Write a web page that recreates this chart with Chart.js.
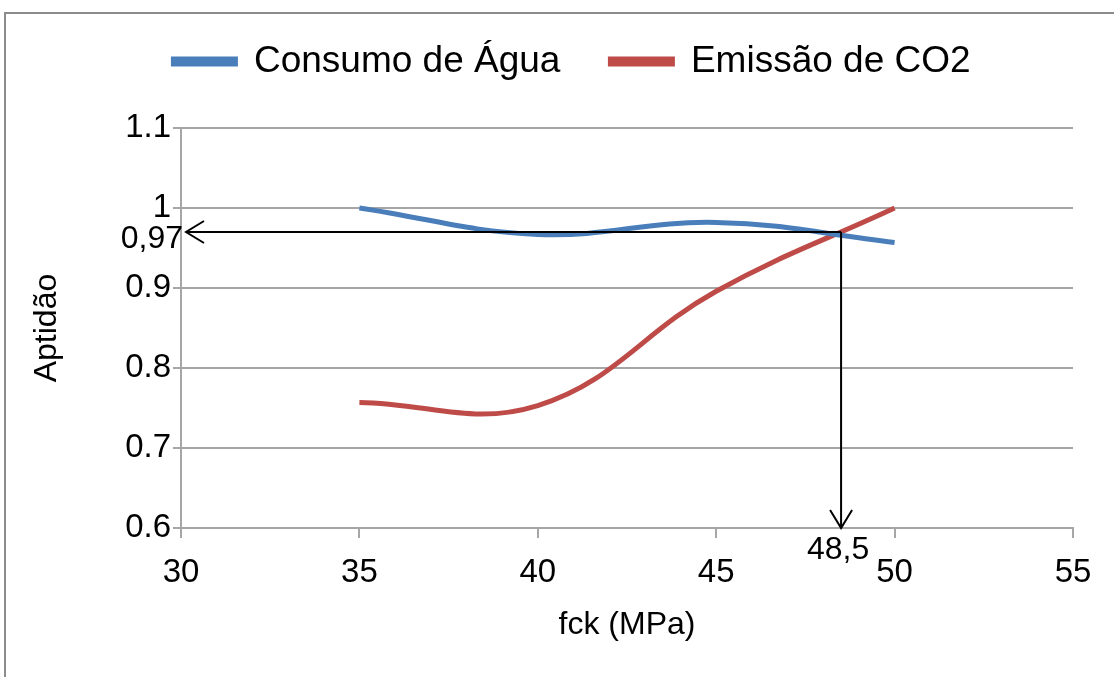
<!DOCTYPE html>
<html>
<head>
<meta charset="utf-8">
<script src="https://cdn.jsdelivr.net/npm/chart.js@4/dist/chart.umd.min.js"></script>
<style>
  html, body { margin: 0; padding: 0; background: #fff; }
  #wrap { width: 1114px; height: 677px; }
</style>
</head>
<body>
<div id="wrap"><canvas id="chart" width="1114" height="677"></canvas></div>
<script>
/* ===== data ===== */
const fckValues = [35, 40, 45, 50];
const consumoAgua = [1.0, 0.967, 0.982, 0.957];
const emissaoCO2 = [0.757, 0.753, 0.896, 1.0];

const seriesNames = ["Consumo de Água", "Emissão de CO2"];

// marked point (arrows + labels)
const markX = 48.5;
const markY = 0.97;
const markXLabel = "48,5";
const markYLabel = "0,97";

const FONT = "'Liberation Sans', Arial, sans-serif";

/* ===== frame + legend placement ===== */
const framePlugin = {
  id: "frame",
  afterInit(chart) {
    // keep a gap between legend and plot, like the original
    const legend = chart.legend;
    if (legend) {
      const fit = legend.fit;
      legend.fit = function () {
        fit.call(this);
        this.height = 128;
      };
    }
  },
  afterLayout(chart) {
    // original legend sits a bit right of centre and higher up
    const legend = chart.legend;
    if (legend) {
      legend.left += 71;
      legend.top -= 7;
    }
  },
  beforeDraw(chart) {
    const ctx = chart.ctx;
    ctx.save();
    ctx.fillStyle = "#fff";
    ctx.fillRect(0, 0, chart.width, chart.height);
    ctx.strokeStyle = "#8c8c8c";
    ctx.lineWidth = 2;
    ctx.strokeRect(5, 13, 1400, 900);
    ctx.restore();
  }
};

/* ===== arrows to the axes ===== */
function arrowHead(ctx, x, y, dir) {
  const len = 18, half = 11;
  ctx.beginPath();
  if (dir === "left") {
    ctx.moveTo(x + len, y - half);
    ctx.lineTo(x, y);
    ctx.lineTo(x + len, y + half);
  } else {
    ctx.moveTo(x - half, y - len);
    ctx.lineTo(x, y);
    ctx.lineTo(x + half, y - len);
  }
  ctx.stroke();
}

const markPlugin = {
  id: "mark",
  afterDatasetsDraw(chart) {
    const ctx = chart.ctx;
    const xs = chart.scales.x, ys = chart.scales.y;
    const px = xs.getPixelForValue(markX);
    const py = ys.getPixelForValue(markY);
    ctx.save();
    ctx.strokeStyle = "#000";
    ctx.lineWidth = 2;
    ctx.beginPath();
    ctx.moveTo(px, py);
    ctx.lineTo(xs.left + 5, py);
    ctx.moveTo(px, py);
    ctx.lineTo(px, ys.bottom);
    ctx.stroke();
    arrowHead(ctx, xs.left + 5, py, "left");
    arrowHead(ctx, px, ys.bottom, "down");

    ctx.fillStyle = "#000";
    ctx.font = "32px " + FONT;
    ctx.textAlign = "right";
    ctx.textBaseline = "middle";
    ctx.fillText(markYLabel, xs.left + 2, py + 7);
    ctx.textAlign = "center";
    ctx.fillText(markXLabel, px - 3, ys.bottom + 22);
    ctx.restore();
  }
};

const chart = new Chart(document.getElementById("chart"), {
  type: "line",
  data: {
    datasets: [
      {
        label: seriesNames[0],
        data: fckValues.map((x, i) => ({ x, y: consumoAgua[i] })),
        borderColor: "#4a7ebb",
        backgroundColor: "#4a7ebb",
        borderWidth: 5,
        pointRadius: 0,
        tension: 0.4
      },
      {
        label: seriesNames[1],
        data: fckValues.map((x, i) => ({ x, y: emissaoCO2[i] })),
        borderColor: "#be4b48",
        backgroundColor: "#be4b48",
        borderWidth: 5,
        pointRadius: 0,
        tension: 0.4
      }
    ]
  },
  options: {
    responsive: false,
    animation: false,
    layout: { padding: { left: 0, right: 41, top: 0, bottom: 0 } },
    plugins: {
      legend: {
        position: "top",
        labels: {
          boxWidth: 62,
          boxHeight: 5,
          padding: 50,
          color: "#000",
          font: { family: FONT, size: 37 }
        }
      },
      tooltip: { enabled: false }
    },
    scales: {
      x: {
        type: "linear",
        min: 30,
        max: 55,
        ticks: {
          stepSize: 5,
          color: "#000",
          padding: 15,
          font: { family: FONT, size: 33 }
        },
        grid: {
          display: true,
          drawOnChartArea: false,
          color: "#a6a6a6",
          lineWidth: 2,
          tickLength: 10
        },
        border: { color: "#a6a6a6", width: 2 },
        title: {
          display: true,
          text: "fck (MPa)",
          color: "#000",
          font: { family: FONT, size: 32 },
          padding: { top: 4, bottom: 33 }
        },
        afterFit(scale) { scale.height = 149; }
      },
      y: {
        min: 0.6,
        max: 1.1,
        ticks: {
          stepSize: 0.1,
          color: "#000",
          padding: 2,
          font: { family: FONT, size: 33 },
          callback: v => String(Number(v.toFixed(1)))
        },
        grid: {
          color: "#a6a6a6",
          lineWidth: 2,
          tickLength: 8
        },
        border: { color: "#a6a6a6", width: 2 },
        title: {
          display: true,
          text: "Aptidão",
          color: "#000",
          font: { family: FONT, size: 32 },
          padding: { top: 28 }
        },
        afterFit(scale) { scale.width = 181; }
      }
    }
  },
  plugins: [framePlugin, markPlugin]
});
</script>
</body>
</html>
